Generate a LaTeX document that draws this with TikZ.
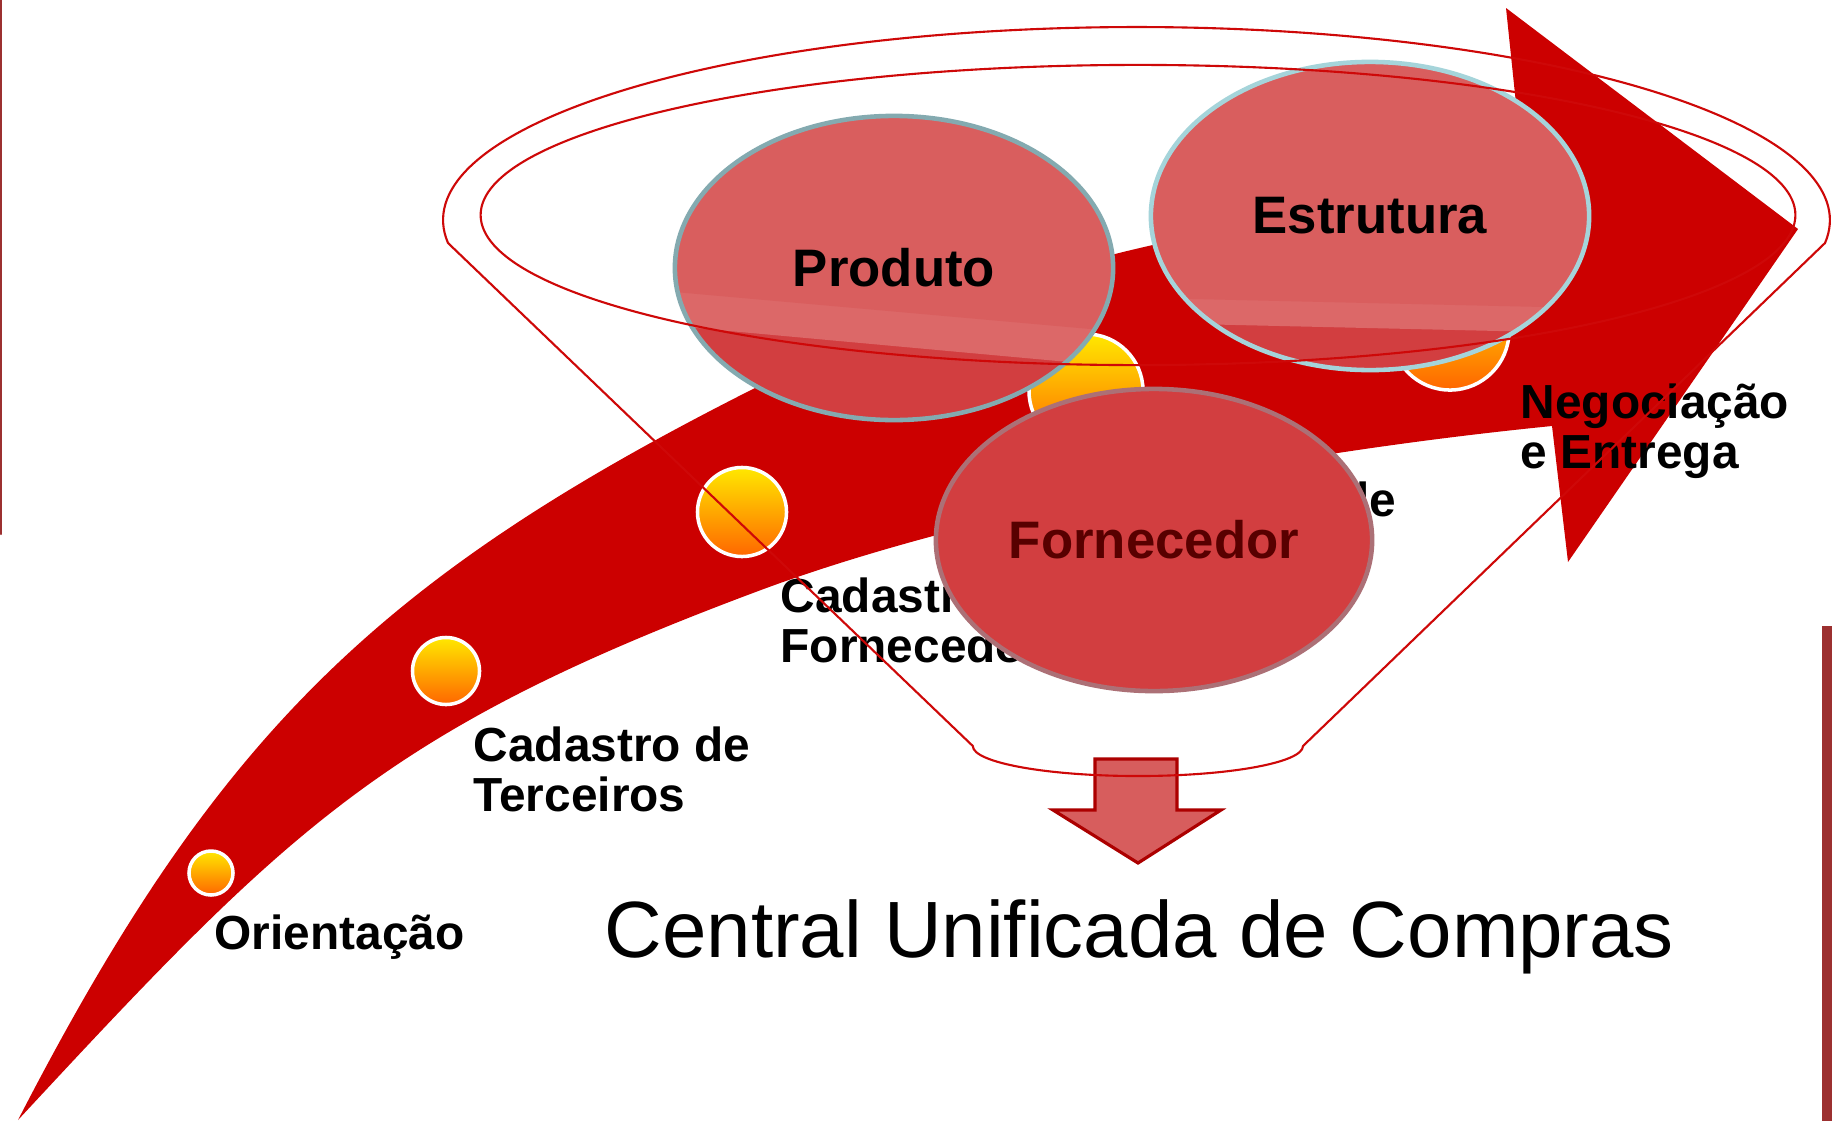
\documentclass[tikz,border=0pt]{standalone}
\usepackage{fontspec}
\setmainfont{Liberation Sans}
\usetikzlibrary{shapes.geometric}
\definecolor{swooshred}{RGB}{204,0,0}
\definecolor{bubbledark}{RGB}{210,62,64}
\definecolor{bubblelight}{RGB}{217,94,94}
\definecolor{bubbleband}{RGB}{220,104,104}
\definecolor{rimteal}{RGB}{132,170,176}
\definecolor{rimcyan}{RGB}{165,212,218}
\definecolor{rimmauve}{RGB}{172,112,118}
\definecolor{fornred}{RGB}{88,0,0}
\definecolor{dotyellow}{RGB}{255,232,0}
\definecolor{dotorange}{RGB}{255,102,0}
\definecolor{funnelred}{RGB}{206,8,8}
\definecolor{arrowfill}{RGB}{212,80,80}
\definecolor{arrowedge}{RGB}{172,0,0}
\definecolor{edgered}{RGB}{156,48,48}
\begin{document}
\begin{tikzpicture}[line cap=round,line join=round,x=0.01cm,y=-0.01cm,
  bubble/.style={ellipse,minimum width=4.38cm,minimum height=3.04cm,inner sep=0pt,
    fill=bubbledark,line width=1.3pt,font=\fontsize{15}{18}\selectfont\bfseries},
  gloss/.style n args={4}{path picture={
    \fill[bubbleband] (path picture bounding box.north west) -- (path picture bounding box.north east)
      -- ([yshift=-#4]path picture bounding box.east) -- ([yshift=-#3]path picture bounding box.west) -- cycle;
    \fill[bubblelight] (path picture bounding box.north west) -- (path picture bounding box.north east)
      -- ([yshift=-#2]path picture bounding box.east) -- ([yshift=-#1]path picture bounding box.west) -- cycle;}},
  dot/.style={circle,draw=white,line width=1pt,top color=dotyellow,bottom color=dotorange,inner sep=0pt},
  steplabel/.style={inner sep=0pt,align=left,font=\fontsize{13.6}{14.3}\selectfont\bfseries},
  funnel/.style={draw=funnelred,line width=0.6pt}]
\useasboundingbox (0,0) rectangle (1834,1121);
\fill[white] (0,0) rectangle (1834,1121);

\fill[swooshred] (18,1120) .. controls (216,736) and (377,579) .. (751,390)
  .. controls (1036,246) and (1275,215) .. (1525,190)
  -- (1506,8) -- (1798,229) -- (1568,562) -- (1552,426)
  .. controls (1252,456) and (949,520) .. (761,590)
  .. controls (385,730) and (290,827) .. (18,1120) -- cycle;

\node[dot,minimum size=0.44cm] (d1) at (211,873) {};
\node[dot,minimum size=0.67cm] (d2) at (446,671) {};
\node[dot,minimum size=0.89cm] (d3) at (742,512) {};
\node[dot,minimum size=1.14cm] (d4) at (1086,391) {};
\node[dot,minimum size=1.18cm] (d5) at (1450,331) {};

\node[steplabel,anchor=base west] (orient) at (214,949) {Orientação};
\node[steplabel,anchor=north west] (terceiros) at (473,726) {Cadastro de\\Terceiros};
\node[steplabel,anchor=north west] (fornec) at (780,577) {Cadastro de\\Fornecedores};
\node[steplabel,anchor=base east] (quarto) at (1397,516) {de};
\node[steplabel,anchor=north west] (negoc) at (1520,383) {Negociação\\e Entrega};

\node[bubble,draw=rimteal,gloss={0.24cm}{0.63cm}{0.58cm}{0.98cm}] (produto) at (894,268) {Produto};
\node[bubble,draw=rimcyan,minimum height=3.08cm,gloss={0.82cm}{0.92cm}{1.07cm}{1.17cm}] (estrutura) at (1370,216) {Estrutura};
\node[bubble,draw=rimmauve,text=fornred,minimum width=4.36cm,minimum height=3.02cm] (fornecedor) at (1154,540) {Fornecedor};

\filldraw[fill=arrowfill,fill opacity=0.92,draw=arrowedge,line width=0.9pt,line join=miter]
  (1095,759) -- (1177,759) -- (1177,810) -- (1221,810) -- (1138,863) -- (1053,810) -- (1095,810) -- cycle;

\draw[funnel] (448,243) arc[start angle=186.8,end angle=-6.8,x radius=6.93cm,y radius=1.93cm]
  -- (1303,746) arc[start angle=0,end angle=-180,x radius=1.65cm,y radius=0.3cm] -- cycle;
\draw[funnel] (1138,215) ellipse [x radius=6.57cm,y radius=1.5cm];

\node[anchor=base west,inner sep=0pt,font=\fontsize{22.7}{27}\selectfont] (central) at (604,957) {Central Unificada de Compras};

\draw[draw=edgered,line width=0.6pt] (1,0) -- (1,534);
\fill[edgered] (1822,626) rectangle (1832,1121);
\end{tikzpicture}
\end{document}
